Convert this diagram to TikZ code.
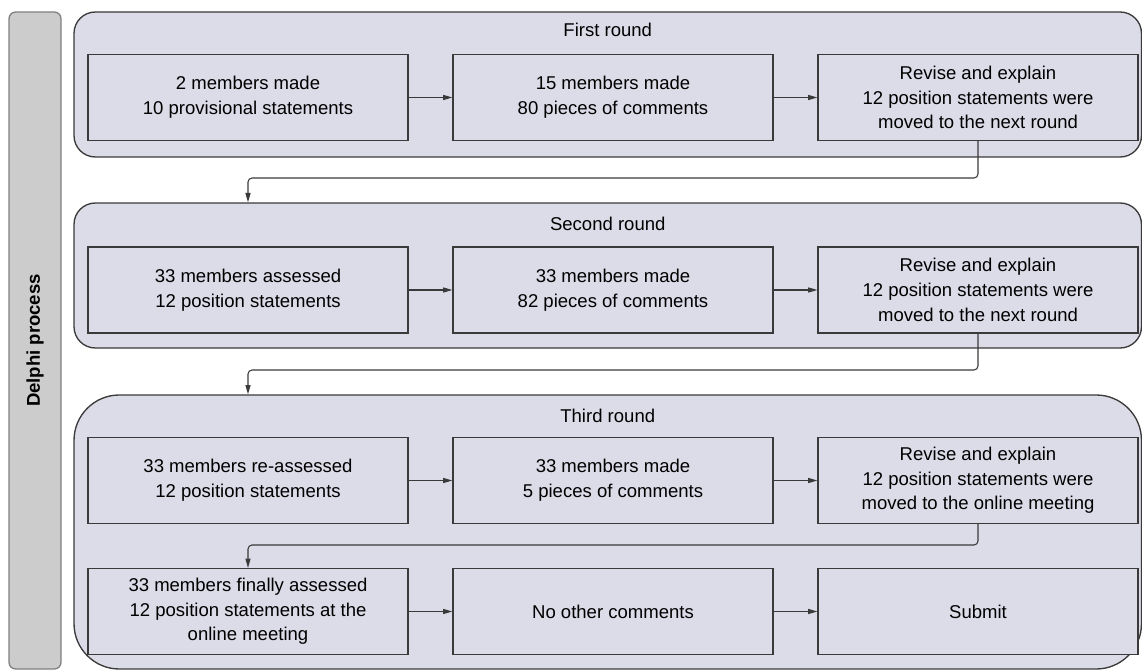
\documentclass[tikz,border=0pt]{standalone}
\usepackage{fontspec}
\setmainfont{Liberation Sans}
\usetikzlibrary{arrows.meta}
\definecolor{roundfill}{RGB}{220,219,232}
\definecolor{linec}{RGB}{58,58,58}
\definecolor{barfill}{RGB}{204,204,204}
\definecolor{barline}{RGB}{128,128,128}
\begin{document}
\begin{tikzpicture}[x=0.75pt,y=-0.75pt,
  txt/.style={font=\fontsize{13.9}{18.5}\selectfont, text=black},
  stepbox/.style={draw=linec, line width=0.9pt, fill=roundfill, minimum width=240pt, minimum height=64.5pt, inner sep=0pt, align=center, txt},
  roundbox/.style={draw=linec, line width=1pt, fill=roundfill, inner sep=0pt, minimum width=800.6pt},
  titletxt/.style={txt, inner sep=0pt},
  conn/.style={draw=linec, line width=0.8pt, -{Triangle[length=7pt,width=3.8pt]}},
  ]
\useasboundingbox (0,0) rectangle (1142,670);
% side bar
\node[draw=barline, fill=barfill, line width=1pt, rounded corners=5pt, rotate=90,
      minimum width=492.75pt, minimum height=39pt, inner sep=0pt,
      font=\fontsize{13.9}{18.5}\selectfont\bfseries] (bar) at (35,340.5) {Delphi process};
% round containers
\node[roundbox, rounded corners=16pt, minimum height=108.75pt] (c1) at (607.75,84.5) {};
\node[roundbox, rounded corners=16pt, minimum height=108.75pt] (c2) at (607.75,275.5) {};
\node[roundbox, rounded corners=34pt, minimum height=205.5pt] (c3) at (607.75,532) {};
\node[titletxt] (t1) at (607.75,30) {First round};
\node[titletxt] (t2) at (607.75,224) {Second round};
\node[titletxt] (t3) at (607.75,416) {Third round};
% boxes
\node[stepbox] (b11) at (248,97.5) {2 members made\\10 provisional statements};
\node[stepbox] (b12) at (613,97.5) {15 members made\\80 pieces of comments};
\node[stepbox] (b13) at (978,97.5) {Revise and explain\\12 position statements were\\moved to the next round};
\node[stepbox] (b21) at (248,290) {33 members assessed\\12 position statements};
\node[stepbox] (b22) at (613,290) {33 members made\\82 pieces of comments};
\node[stepbox] (b23) at (978,290) {Revise and explain\\12 position statements were\\moved to the next round};
\node[stepbox] (b31) at (248,480.5) {33 members re-assessed\\12 position statements};
\node[stepbox] (b32) at (613,480.5) {33 members made\\5 pieces of comments};
\node[stepbox] (b33) at (978,480.5) {Revise and explain\\12 position statements were\\moved to the online meeting};
\node[stepbox] (b41) at (248,611.5) {33 members finally assessed\\12 position statements at the\\online meeting};
\node[stepbox] (b42) at (613,611.5) {No other comments};
\node[stepbox] (b43) at (978,611.5) {Submit};
% horizontal arrows
\draw[conn] (b11.east) -- (b12.west);
\draw[conn] (b12.east) -- (b13.west);
\draw[conn] (b21.east) -- (b22.west);
\draw[conn] (b22.east) -- (b23.west);
\draw[conn] (b31.east) -- (b32.west);
\draw[conn] (b32.east) -- (b33.west);
\draw[conn] (b41.east) -- (b42.west);
\draw[conn] (b42.east) -- (b43.west);
% connectors between rounds
\coordinate (m1) at (0,178);
\coordinate (m2) at (0,370);
\coordinate (m3) at (0,545);
\draw[conn, rounded corners=3pt] (b13.south) |- (m1 -| b21) -- (b21 |- c2.north);
\draw[conn, rounded corners=3pt] (b23.south) |- (m2 -| b31) -- (b31 |- c3.north);
\draw[conn, rounded corners=3pt] (b33.south) |- (m3 -| b41) -- (b41.north);
\end{tikzpicture}
\end{document}
